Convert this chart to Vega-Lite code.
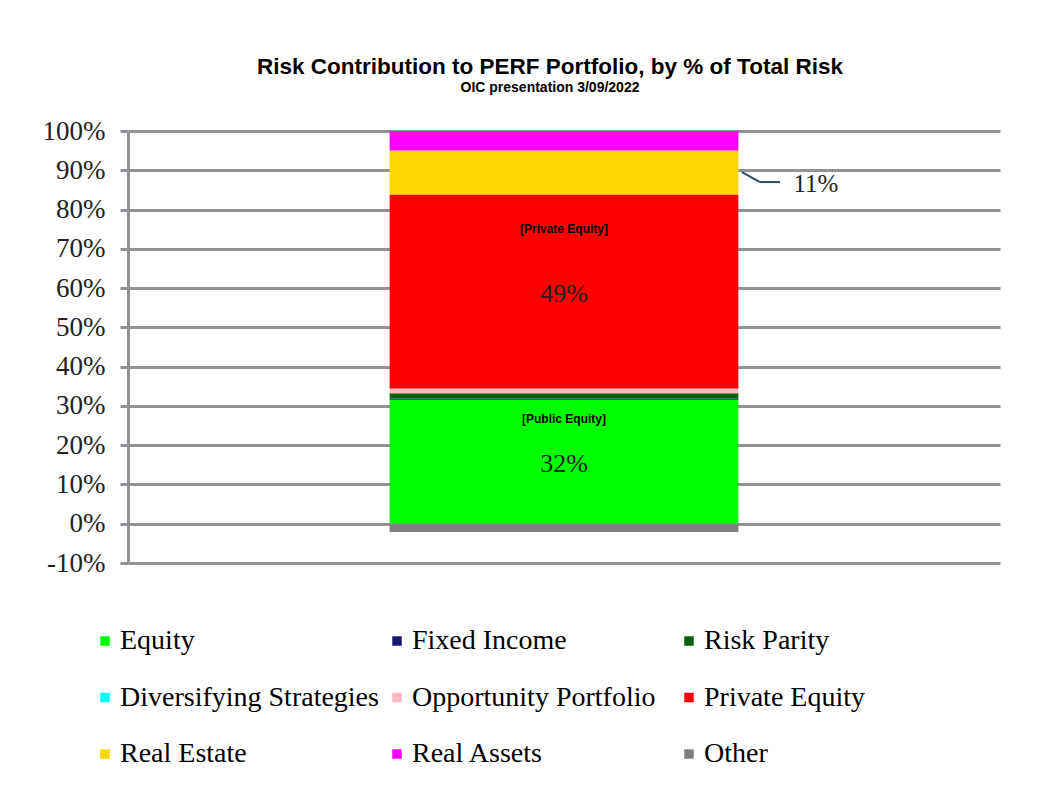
{
  "$schema": "https://vega.github.io/schema/vega-lite/v6.json",
  "width": 872,
  "height": 432,
  "autosize": {"type": "none"},
  "padding": {"left": 128, "top": 131, "right": 41, "bottom": 235},
  "background": "white",
  "title": {
    "text": "Risk Contribution to PERF Portfolio, by % of Total Risk",
    "subtitle": "OIC presentation 3/09/2022",
    "font": "Liberation Sans",
    "fontSize": 22.5,
    "fontWeight": "bold",
    "color": "black",
    "subtitleFont": "Liberation Sans",
    "subtitleFontSize": 14,
    "subtitleFontWeight": "bold",
    "subtitleColor": "black",
    "subtitlePadding": 3,
    "anchor": "middle",
    "dx": -14,
    "offset": 22
  },
  "data": {
    "values": [
      {"cat": "PERF", "series": "Equity", "value": 0.316, "order": 1},
      {"cat": "PERF", "series": "Fixed Income", "value": 0.003, "order": 2},
      {"cat": "PERF", "series": "Risk Parity", "value": 0.0135, "order": 3},
      {"cat": "PERF", "series": "Diversifying Strategies", "value": 0.0, "order": 4},
      {"cat": "PERF", "series": "Opportunity Portfolio", "value": 0.012, "order": 5},
      {"cat": "PERF", "series": "Private Equity", "value": 0.494, "order": 6},
      {"cat": "PERF", "series": "Real Estate", "value": 0.112, "order": 7},
      {"cat": "PERF", "series": "Real Assets", "value": 0.0495, "order": 8},
      {"cat": "PERF", "series": "Other", "value": -0.021, "order": 9}
    ]
  },
  "transform": [
    {"stack": "value", "groupby": ["cat"], "sort": [{"field": "order", "order": "ascending"}], "as": ["v0", "v1"]}
  ],
  "layer": [
    {
      "mark": {"type": "bar", "width": {"band": 0.4}},
      "encoding": {
        "x": {"field": "cat", "type": "nominal", "axis": null, "scale": {"paddingInner": 0, "paddingOuter": 0}},
        "y": {
          "field": "v0",
          "type": "quantitative",
          "scale": {"domain": [-0.1, 1], "nice": false, "zero": false},
          "axis": {
            "values": [-0.1, 0, 0.1, 0.2, 0.3, 0.4, 0.5, 0.6, 0.7, 0.8, 0.9, 1],
            "tickCount": 30,
            "format": ".0%",
            "labelExpr": "replace(datum.label, '−', '-')",
            "labelOverlap": false,
            "title": null,
            "labelFont": "Liberation Serif",
            "labelFontSize": 27,
            "labelColor": "#222222",
            "labelPadding": 15,
            "domainColor": "#8e9196",
            "domainWidth": 3,
            "tickColor": "#8e9196",
            "tickWidth": 3,
            "tickSize": 8,
            "grid": true,
            "gridColor": "#929292",
            "gridWidth": 3
          }
        },
        "y2": {"field": "v1"},
        "color": {
          "field": "series",
          "type": "nominal",
          "scale": {
            "domain": ["Equity", "Fixed Income", "Risk Parity", "Diversifying Strategies", "Opportunity Portfolio", "Private Equity", "Real Estate", "Real Assets", "Other"],
            "range": ["#00FF00", "#191970", "#006400", "#00FFFF", "#FFB6C1", "#FF0000", "#FFD700", "#FF00FF", "#808080"]
          },
          "legend": {
            "orient": "none",
            "direction": "horizontal",
            "legendX": -37,
            "legendY": 496,
            "columns": 3,
            "gridAlign": "all",
            "columnPadding": 4,
            "rowPadding": 28.5,
            "title": null,
            "symbolType": "square",
            "symbolSize": 90,
            "symbolStrokeWidth": 0,
            "labelFont": "Liberation Serif",
            "labelFontSize": 28,
            "labelColor": "black",
            "labelOffset": 1,
            "labelLimit": 400
          }
        }
      }
    },
    {
      "transform": [{"filter": "datum.series === 'Private Equity'"}],
      "mark": {"type": "text", "font": "Liberation Sans", "fontWeight": "bold", "fontSize": 12, "color": "black", "dy": 35, "baseline": "middle"},
      "encoding": {
        "x": {"field": "cat", "type": "nominal"},
        "y": {"field": "v1", "type": "quantitative"},
        "text": {"value": "[Private Equity]"}
      }
    },
    {
      "transform": [{"filter": "datum.series === 'Private Equity'"}],
      "mark": {"type": "text", "font": "Liberation Serif", "fontSize": 26, "color": "#222222", "dy": 100, "baseline": "middle"},
      "encoding": {
        "x": {"field": "cat", "type": "nominal"},
        "y": {"field": "v1", "type": "quantitative"},
        "text": {"field": "value", "format": ".0%"}
      }
    },
    {
      "transform": [{"filter": "datum.series === 'Equity'"}],
      "mark": {"type": "text", "font": "Liberation Sans", "fontWeight": "bold", "fontSize": 12, "color": "black", "dy": 19, "baseline": "middle"},
      "encoding": {
        "x": {"field": "cat", "type": "nominal"},
        "y": {"field": "v1", "type": "quantitative"},
        "text": {"value": "[Public Equity]"}
      }
    },
    {
      "transform": [{"filter": "datum.series === 'Equity'"}],
      "mark": {"type": "text", "font": "Liberation Serif", "fontSize": 26, "color": "#222222", "dy": 64, "baseline": "middle"},
      "encoding": {
        "x": {"field": "cat", "type": "nominal"},
        "y": {"field": "v1", "type": "quantitative"},
        "text": {"field": "value", "format": ".0%"}
      }
    },
    {
      "transform": [{"filter": "datum.series === 'Real Estate'"}],
      "mark": {"type": "text", "font": "Liberation Serif", "fontSize": 25, "color": "#222222", "dy": 34, "dx": 252, "baseline": "middle"},
      "encoding": {
        "x": {"field": "cat", "type": "nominal"},
        "y": {"field": "v1", "type": "quantitative"},
        "text": {"field": "value", "format": ".0%"}
      }
    },
    {
      "transform": [{"filter": "datum.series === 'Real Estate'"}],
      "mark": {"type": "rule", "xOffset": 178, "x2Offset": 196, "color": "#2E4A62", "strokeWidth": 2},
      "encoding": {
        "x": {"field": "cat", "type": "nominal"},
        "x2": {"field": "cat"},
        "y": {"datum": 0.895},
        "y2": {"datum": 0.87}
      }
    },
    {
      "transform": [{"filter": "datum.series === 'Real Estate'"}],
      "mark": {"type": "rule", "xOffset": 196, "x2Offset": 216, "color": "#2E4A62", "strokeWidth": 2},
      "encoding": {
        "x": {"field": "cat", "type": "nominal"},
        "x2": {"field": "cat"},
        "y": {"datum": 0.87},
        "y2": {"datum": 0.87}
      }
    }
  ],
  "config": {"view": {"stroke": null}}
}
